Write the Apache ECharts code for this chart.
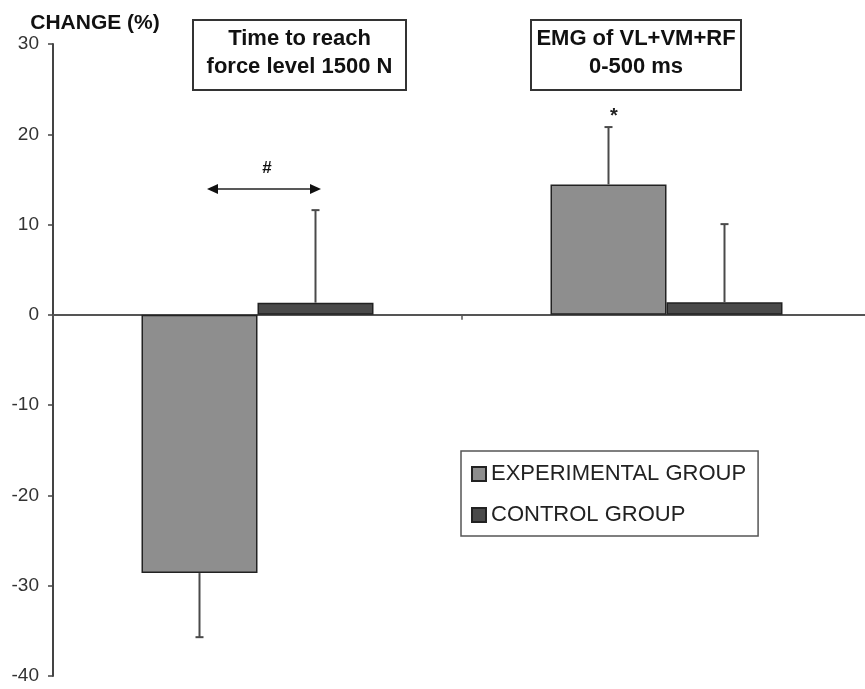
<!DOCTYPE html>
<html>
<head>
<meta charset="utf-8">
<script src="https://cdn.jsdelivr.net/npm/echarts@6/dist/echarts.min.js"></script>
<style>html,body{margin:0;padding:0;background:#fff;}#c{width:865px;height:689px;}</style>
</head>
<body>
<div id="c"></div>
<script>
var categories = ['Time to reach force level 1500 N', 'EMG of VL+VM+RF 0-500 ms'];
var experimental = [-28.6, 14.45];
var control = [1.35, 1.4];
var experimentalErr = [-35.7, 20.8];
var controlErr = [11.6, 10.05];
var yTicks = { min: -40, max: 30, interval: 10 };

var BAR_W = 116;
var chart = echarts.init(document.getElementById('c'));

function errData(vals, ends, side) {
  return vals.map(function (v, i) { return [i, v, ends[i], side]; });
}

function renderErr(params, api) {
  var i = api.value(0);
  var p0 = api.coord([i, api.value(1)]);
  var p1 = api.coord([i, api.value(2)]);
  var x = p0[0] + api.value(3) * BAR_W / 2;
  var cap = 4;
  return {
    type: 'group',
    children: [
      { type: 'line', shape: { x1: x, y1: p0[1], x2: x, y2: p1[1] }, style: { stroke: '#4a4a4a', lineWidth: 2 } },
      { type: 'line', shape: { x1: x - cap, y1: p1[1], x2: x + cap, y2: p1[1] }, style: { stroke: '#4a4a4a', lineWidth: 2 } }
    ]
  };
}

var font = 'Liberation Sans, Arial, sans-serif';

chart.setOption({
  animation: false,
  backgroundColor: '#fff',
  textStyle: { fontFamily: font },
  grid: { left: 53, width: 818, top: 44, bottom: 13, containLabel: false, outerBoundsMode: 'none' },
  legend: {
    data: ['EXPERIMENTAL GROUP', 'CONTROL GROUP'],
    orient: 'vertical',
    left: 461,
    top: 451,
    padding: [12, 12, 10, 10],
    itemGap: 19,
    itemWidth: 14,
    itemHeight: 14,
    icon: 'rect',
    borderColor: '#555',
    borderWidth: 1.5,
    textStyle: { fontSize: 22, color: '#222', fontFamily: font }
  },
  xAxis: {
    type: 'category',
    data: categories,
    axisLine: { onZero: true, lineStyle: { color: '#555', width: 2 } },
    axisTick: { show: true, length: 5, lineStyle: { color: '#555', width: 1.5 } },
    axisLabel: { show: false },
    splitLine: { show: false }
  },
  yAxis: {
    type: 'value',
    min: yTicks.min,
    max: yTicks.max,
    interval: yTicks.interval,
    axisLine: { show: true, lineStyle: { color: '#444', width: 2 } },
    axisTick: { show: true, length: 5, lineStyle: { color: '#444', width: 1.5 } },
    axisLabel: { fontSize: 19, color: '#333', margin: 14, fontFamily: font },
    splitLine: { show: false }
  },
  series: [
    {
      name: 'EXPERIMENTAL GROUP', type: 'bar', data: experimental,
      barWidth: BAR_W, barGap: '0%',
      itemStyle: { color: '#8e8e8e', borderColor: '#222', borderWidth: 1.5 }
    },
    {
      name: 'CONTROL GROUP', type: 'bar', data: control,
      barWidth: BAR_W, barGap: '0%',
      itemStyle: { color: '#4a4a4a', borderColor: '#222', borderWidth: 1.5 }
    },
    {
      type: 'custom', renderItem: renderErr, data: errData(experimental, experimentalErr, -1),
      encode: { x: 0, y: [1, 2] }, z: 5, silent: true
    },
    {
      type: 'custom', renderItem: renderErr, data: errData(control, controlErr, 1),
      encode: { x: 0, y: [1, 2] }, z: 5, silent: true
    }
  ],
  graphic: [
    {
      type: 'text', x: 95, y: 23,
      style: { text: 'CHANGE (%)', font: 'bold 21px ' + font, fill: '#111', align: 'center', verticalAlign: 'middle' }
    },
    {
      type: 'rect', shape: { x: 193, y: 20, width: 213, height: 70 },
      style: { fill: '#fff', stroke: '#333', lineWidth: 2 }
    },
    {
      type: 'text', x: 299.5, y: 53,
      style: { text: 'Time to reach\nforce level 1500 N', font: 'bold 22px ' + font, fill: '#111', align: 'center', verticalAlign: 'middle', lineHeight: 28 }
    },
    {
      type: 'rect', shape: { x: 531, y: 20, width: 210, height: 70 },
      style: { fill: '#fff', stroke: '#333', lineWidth: 2 }
    },
    {
      type: 'text', x: 636, y: 53,
      style: { text: 'EMG of VL+VM+RF\n0-500 ms', font: 'bold 22px ' + font, fill: '#111', align: 'center', verticalAlign: 'middle', lineHeight: 28 }
    },
    {
      type: 'line', shape: { x1: 216, y1: 189, x2: 312, y2: 189 },
      style: { stroke: '#222', lineWidth: 1.5 }
    },
    {
      type: 'polygon', shape: { points: [[207, 189], [218, 184], [218, 194]] },
      style: { fill: '#111' }
    },
    {
      type: 'polygon', shape: { points: [[321, 189], [310, 184], [310, 194]] },
      style: { fill: '#111' }
    },
    {
      type: 'text', x: 267, y: 168,
      style: { text: '#', font: 'bold 17px ' + font, fill: '#111', align: 'center', verticalAlign: 'middle' }
    },
    {
      type: 'text', x: 614, y: 116,
      style: { text: '*', font: 'bold 20px ' + font, fill: '#222', align: 'center', verticalAlign: 'middle' }
    }
  ]
});
</script>
</body>
</html>
